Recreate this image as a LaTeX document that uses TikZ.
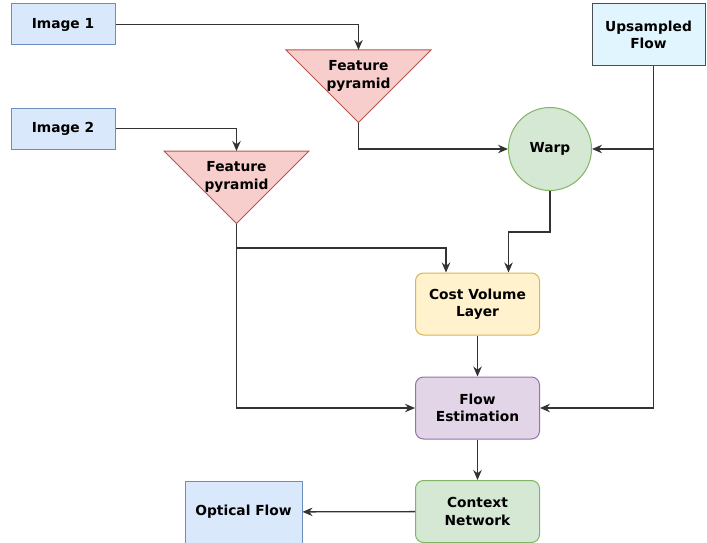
\documentclass[tikz,border=0pt]{standalone}
\usepackage{fontspec}
\setmainfont{DejaVu Sans}
\usetikzlibrary{arrows.meta,calc}
\definecolor{bluefill}{HTML}{DAE8FC}\definecolor{bluedraw}{HTML}{6C8EBF}
\definecolor{redfill}{HTML}{F8CECC}\definecolor{reddraw}{HTML}{B85450}
\definecolor{greenfill}{HTML}{D5E8D4}\definecolor{greendraw}{HTML}{82B366}
\definecolor{yellowfill}{HTML}{FFF2CC}\definecolor{yellowdraw}{HTML}{D6B656}
\definecolor{purplefill}{HTML}{E1D5E7}\definecolor{purpledraw}{HTML}{9673A6}
\definecolor{cyanfill}{HTML}{E1F5FE}\definecolor{cyandraw}{HTML}{4A4D52}
\definecolor{edgecol}{HTML}{333333}
\begin{document}
\begin{tikzpicture}[x=1pt,y=-1pt,
  lbl/.style={font=\fontsize{13.8}{17.5}\selectfont\bfseries, align=center, text=black},
  box/.style={lbl, draw, line width=1pt, inner sep=0pt},
  bluebox/.style={box, fill=bluefill, draw=bluedraw},
  rbox/.style={box, rounded corners=8pt, minimum width=124pt, minimum height=62pt},
  conn/.style={draw=edgecol, line width=1.3pt, -{Stealth[length=10pt,width=8.5pt]}},
  plain/.style={draw=edgecol, line width=1.3pt}]
\useasboundingbox (0,0) rectangle (707,543);
% nodes
\node[bluebox, minimum width=104pt, minimum height=41pt] (img1) at (63,24.5) {Image 1};
\node[bluebox, minimum width=104pt, minimum height=41pt] (img2) at (63,128.5) {Image 2};
\node[box, fill=cyanfill, draw=cyandraw, minimum width=113pt, minimum height=62pt] (up) at (648.5,35) {Upsampled\\Flow};
\node[lbl, circle, draw=greendraw, fill=greenfill, line width=1pt, minimum size=83pt, inner sep=0pt] (warp) at (550,149) {Warp};
\node[rbox, fill=yellowfill, draw=yellowdraw] (cv) at (477.5,304) {Cost Volume\\Layer};
\node[rbox, fill=purplefill, draw=purpledraw] (fe) at (477.5,408) {Flow\\Estimation};
\node[rbox, fill=greenfill, draw=greendraw] (cn) at (477.5,511.5) {Context\\Network};
\node[bluebox, minimum width=117pt, minimum height=62pt] (of) at (243.5,512) {Optical Flow};
% feature pyramids (triangles)
\coordinate (fp1top) at (358.5,50);
\coordinate (fp1apex) at (358.5,122.5);
\draw[fill=redfill, draw=reddraw, line width=1pt] (286,50) -- (431,50) -- (fp1apex) -- cycle;
\node[lbl] (fp1) at (358.5,76) {Feature\\pyramid};
\coordinate (fp2top) at (236.5,151);
\coordinate (fp2apex) at (236.5,223.5);
\draw[fill=redfill, draw=reddraw, line width=1pt] (164,151) -- (309,151) -- (fp2apex) -- cycle;
\node[lbl] (fp2) at (236.5,177) {Feature\\pyramid};
% connectors
\draw[conn] (img1.east) -| (fp1top);
\draw[conn] (img2.east) -| (fp2top);
\draw[conn] (fp1apex) |- (warp.west);
\coordinate (upb) at (653.5,149);
\draw[plain] (up.south -| upb) -- (upb);
\draw[conn] (upb) -- (warp.east);
\draw[conn] (upb) |- (fe.east);
\coordinate (wturn) at (550,232);
\draw[conn] (warp.south) -- (wturn) -| ($(cv.north)+(31,0)$);
\coordinate (fpbr) at (236.5,248);
\draw[conn] (fp2apex) -- (fpbr) -| ($(cv.north)+(-31.5,0)$);
\draw[conn] (fpbr) |- (fe.west);
\draw[conn] (cv) -- (fe);
\draw[conn] (fe) -- (cn);
\draw[conn] (cn) -- (of);
\end{tikzpicture}
\end{document}
